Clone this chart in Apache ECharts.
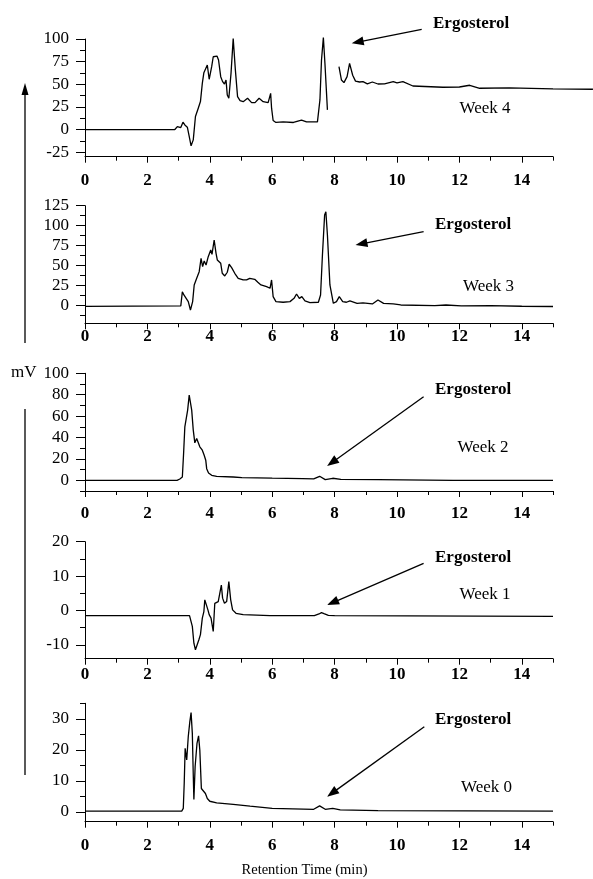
<!DOCTYPE html>
<html><head><meta charset="utf-8">
<script src="https://cdn.jsdelivr.net/npm/echarts@6/dist/echarts.min.js"></script>
<style>html,body{margin:0;padding:0;background:#fff}#c{width:593px;height:879px}</style>
</head><body><div id="c"></div>
<script>
// ---------- DATA ----------
const weekNames = ['Week 4','Week 3','Week 2','Week 1','Week 0'];
const peakLabel = 'Ergosterol';
const xTitle = 'Retention Time (min)';
const yUnit = 'mV';

const xMajor = [0,2,4,6,8,10,12,14];
const xMinor = [1,3,5,7,9,11,13,15];

const yMinW4 = -30, yMaxW4 = 100;
const yMajorW4 = [-25,0,25,50,75,100];
const yMinorW4 = [-12.5,12.5,37.5,62.5,87.5];
const yMinW3 = -22, yMaxW3 = 125;
const yMajorW3 = [0,25,50,75,100,125];
const yMinorW3 = [-12.5,12.5,37.5,62.5,87.5,112.5];
const yMinW2 = -10, yMaxW2 = 100;
const yMajorW2 = [0,20,40,60,80,100];
const yMinorW2 = [-10,10,30,50,70,90];
const yMinW1 = -14, yMaxW1 = 20;
const yMajorW1 = [-10,0,10,20];
const yMinorW1 = [-5,5,15];
const yMinW0 = -3.2, yMaxW0 = 35;
const yMajorW0 = [0,10,20,30];
const yMinorW0 = [5,15,25,35];

// Week 4 (null = gap in trace)
const timeW4 = [0,2.88,2.96,3.02,3.07,3.14,3.20,3.28,3.34,3.40,
  3.47,3.54,3.63,3.70,3.76,3.81,3.87,3.92,3.98,4.06,
  4.11,4.17,4.23,4.28,4.35,4.41,4.47,4.52,4.56,4.61,
  4.68,4.75,4.82,4.89,4.97,5.07,5.21,5.34,5.45,5.58,
  5.71,5.87,5.93,5.95,5.98,6.03,6.12,6.35,6.68,6.94,
  7.10,7.45,7.53,7.58,7.64,7.69,7.77,7.95,8.14,8.22,
  8.30,8.40,8.48,8.58,8.67,8.80,8.91,9.05,9.21,9.39,
  9.60,9.88,10.0,10.19,10.51,11.47,12.0,12.33,12.65,13.6,
  15,16.28];
const valueW4 = [0,0,3.3,4.4,2.2,8.1,5.1,2.6,-7.6,-18,
  -11.4,14.4,23.6,30.9,51,62.8,63.9,71.3,55.5,69.4,
  80.4,79.7,81.2,76.8,58.4,52.9,50.3,54.7,38.2,34.5,
  62,100.6,65.6,36.3,31.9,30.8,34.5,29.7,29.7,34.5,
  30.8,29.7,28.2,40,23.6,10,7.8,8.5,7.8,10.4,
  8.5,8.5,32.7,76.8,101.7,73.2,21.7,null,69.4,54.7,
  51.8,58.4,73.1,60,53.5,52.5,52.9,50.5,52.5,50.3,
  50.5,53,51.5,52.9,48.1,46.7,47,48.9,45.6,46,
  44.9,44.5];

// Week 3
const timeW3 = [0,3.07,3.12,3.17,3.23,3.31,3.38,3.45,3.50,3.58,
  3.66,3.72,3.77,3.82,3.88,3.95,4.03,4.07,4.14,4.20,
  4.24,4.29,4.35,4.40,4.48,4.56,4.62,4.70,4.80,4.91,
  5.07,5.18,5.28,5.44,5.54,5.64,5.82,5.93,5.98,6.03,
  6.12,6.35,6.57,6.70,6.78,6.87,6.95,7.05,7.21,7.48,
  7.55,7.61,7.68,7.72,7.77,7.85,7.96,8.06,8.15,8.26,
  8.38,8.49,8.72,8.91,9.21,9.39,9.57,9.88,10.12,11.21,
  11.57,12.06,13.0,14.0,15];
const valueW3 = [-0.8,-0.3,17.5,13.4,11.3,5.1,-5.4,5.1,25.9,34.2,
  42.5,59.2,48.8,55.9,50.9,61.3,69.6,64.2,82.1,65.5,
  57.2,58,53,40.5,37.2,41.8,51.8,47.6,40.5,34.2,
  32.2,32.2,34.2,33,29.2,25.9,23.8,21.8,32.2,11.3,
  5.1,4.3,5.1,9.2,14.6,9.2,11.3,5.9,3.8,4.3,
  13.4,63.4,113.4,117.5,88.4,25.9,3.0,5.1,11.3,5.1,
  4.3,5.9,2.9,3.6,2.2,7.2,2.9,2.2,0.9,0.1,
  0.9,-0.3,0.1,-0.7,-1];

// Week 2
const timeW2 = [0,2.95,3.04,3.12,3.16,3.20,3.24,3.29,3.34,3.37,
  3.42,3.47,3.52,3.58,3.63,3.68,3.76,3.82,3.87,3.90,
  3.96,4.06,4.22,4.75,5.03,6.0,6.97,7.33,7.52,7.70,
  7.94,8.2,9.4,11.8,15];
const valueW2 = [0,0,1.25,3.1,25,50,51.6,65.6,79.7,78.8,
  65.6,46.9,35,39.1,40,31.3,28.1,23.4,18.8,10.9,
  6.9,4.7,3.75,3.1,2.5,2.0,1.6,1.25,3.75,0.6,
  1.9,0.9,0.6,0,0];

// Week 1
const timeW1 = [0,3.35,3.39,3.44,3.49,3.54,3.60,3.65,3.70,3.76,
  3.81,3.84,3.90,3.94,3.98,4.04,4.11,4.16,4.22,4.27,
  4.32,4.37,4.41,4.47,4.54,4.61,4.67,4.73,4.84,5.07,
  5.93,7.35,7.50,7.58,7.66,7.80,8.0,15];
const valueW1 = [-1.5,-1.5,-2.0,-4.6,-9.5,-11.4,-11.9,-8.5,-7.0,-2.2,
  -0.3,3.1,3.3,0.2,-1.2,-2.2,-6.1,2.1,1.9,2.6,
  5.0,7.4,3.6,2.1,2.6,8.4,3.1,0.2,-0.8,-1.2,
  -1.5,-1.5,-1.0,-0.6,-0.9,-1.4,-1.5,-1.7];

// Week 0
const timeW0 = [0,3.10,3.15,3.18,3.21,3.26,3.31,3.36,3.40,3.44,
  3.47,3.49,3.53,3.59,3.64,3.68,3.73,3.79,3.86,3.92,
  4.00,4.22,4.75,5.29,6.0,7.33,7.52,7.70,7.94,8.18,
  9.39,15];
const valueW0 = [0.2,0.2,1.1,9.2,20.5,16.7,24.3,29.1,32.0,25.3,
  11.9,4.0,14.6,22.1,24.5,19.9,7.5,7.0,5.9,4.3,
  3.4,2.9,2.4,1.8,1.1,0.8,1.9,0.8,1.1,0.6,
  0.4,0.2];

// ---------- LAYOUT ----------
const FONT = '"Liberation Serif", "Times New Roman", serif';
const xAxisMax = 15;
const gridLeft = 85, gridWidth = 468;
const gridTops = [39, 205.7, 373.3, 541.7, 703.3];
const gridHeights = [117.7, 117.6, 117.7, 117, 118.4];
const xLabelMargins = [15, 5, 14.5, 7, 15.5];

const panels = [
  {t: timeW4, v: valueW4, min: yMinW4, max: yMaxW4, maj: yMajorW4, mnr: yMinorW4},
  {t: timeW3, v: valueW3, min: yMinW3, max: yMaxW3, maj: yMajorW3, mnr: yMinorW3},
  {t: timeW2, v: valueW2, min: yMinW2, max: yMaxW2, maj: yMajorW2, mnr: yMinorW2},
  {t: timeW1, v: valueW1, min: yMinW1, max: yMaxW1, maj: yMajorW1, mnr: yMinorW1},
  {t: timeW0, v: valueW0, min: yMinW0, max: yMaxW0, maj: yMajorW0, mnr: yMinorW0}
];

const grid = [], xAxis = [], yAxis = [], series = [];
const black = '#000';
panels.forEach((p, i) => {
  grid.push({left: gridLeft, width: gridWidth, top: gridTops[i], height: gridHeights[i]});
  xAxis.push({
    type: 'value', gridIndex: i, min: 0, max: xAxisMax, position: 'bottom',
    axisLine: {show: true, onZero: false, lineStyle: {color: black, width: 1}},
    axisTick: {show: true, customValues: xMajor, length: 6, inside: false, lineStyle: {color: black, width: 1}},
    axisLabel: {show: true, customValues: xMajor, color: black, fontFamily: FONT, fontWeight: 'bold', fontSize: 17, margin: xLabelMargins[i]},
    splitLine: {show: false}
  });
  xAxis.push({
    type: 'value', gridIndex: i, min: 0, max: xAxisMax, position: 'bottom',
    axisLine: {show: false, onZero: false},
    axisTick: {show: true, customValues: xMinor, length: 4, inside: false, lineStyle: {color: black, width: 1}},
    axisLabel: {show: false},
    splitLine: {show: false}
  });
  yAxis.push({
    type: 'value', gridIndex: i, min: p.min, max: p.max, position: 'left',
    axisLine: {show: true, onZero: false, lineStyle: {color: black, width: 1}},
    axisTick: {show: true, customValues: p.maj, length: 9, inside: false, lineStyle: {color: black, width: 1}},
    axisLabel: {show: true, customValues: p.maj, color: black, fontFamily: FONT, fontSize: 17, margin: 16},
    splitLine: {show: false}
  });
  yAxis.push({
    type: 'value', gridIndex: i, min: p.min, max: p.max, position: 'left',
    axisLine: {show: false, onZero: false},
    axisTick: {show: true, customValues: p.mnr, length: 5, inside: false, lineStyle: {color: black, width: 1}},
    axisLabel: {show: false},
    splitLine: {show: false}
  });
});

// Each trace gets its own plotting grid whose x-range covers all of its data
// (Week 4 runs past the 15-min end of the drawn axis, out to the page edge).
panels.forEach((p, i) => {
  const tMax = Math.max(xAxisMax, ...p.t);
  const gi = grid.length;
  grid.push({left: gridLeft, width: gridWidth * tMax / xAxisMax, top: gridTops[i], height: gridHeights[i]});
  const xi = xAxis.length, yi = yAxis.length;
  xAxis.push({type: 'value', gridIndex: gi, min: 0, max: tMax, show: false});
  yAxis.push({type: 'value', gridIndex: gi, min: p.min, max: p.max, show: false});
  series.push({
    type: 'line', xAxisIndex: xi, yAxisIndex: yi,
    data: p.t.map((t, k) => [t, p.v[k] === null ? '-' : p.v[k]]),
    showSymbol: false, symbol: 'none', connectNulls: false, clip: false,
    lineStyle: {color: black, width: 1.3}, animation: false, silent: true
  });
});

// annotation layout (pixels)
const ergoLabelPos = [[433, 24], [435, 225], [435, 390], [435, 557.7], [435, 720]];
const weekLabelPos = [[459.5, 109], [463, 286.7], [457.6, 448], [459.5, 595], [461, 788]];
const arrowLines = [
  [421.7, 29.3, 351.7, 43.3],
  [423.6, 231.7, 355.5, 245],
  [423.6, 396.7, 327.1, 466],
  [423.6, 563.3, 327.1, 605],
  [424.3, 726.7, 327.1, 796.7]
];

const graphic = [];
function addArrow(x1, y1, x2, y2, headLen, headHalf) {
  const dx = x2 - x1, dy = y2 - y1, L = Math.hypot(dx, dy);
  const ux = dx / L, uy = dy / L, nx = -uy, ny = ux;
  const bx = x2 - ux * headLen, by = y2 - uy * headLen;
  graphic.push({type: 'line', shape: {x1: x1, y1: y1, x2: bx + ux * 2, y2: by + uy * 2}, style: {stroke: black, lineWidth: 1.3}, silent: true});
  graphic.push({type: 'polygon', shape: {points: [[x2, y2], [bx + nx * headHalf, by + ny * headHalf], [bx - nx * headHalf, by - ny * headHalf]]}, style: {fill: black}, silent: true});
}
weekNames.forEach((w, i) => {
  graphic.push({type: 'text', x: ergoLabelPos[i][0], y: ergoLabelPos[i][1], silent: true,
    style: {text: peakLabel, fontFamily: FONT, fontWeight: 'bold', fontSize: 17, fill: black, align: 'left', verticalAlign: 'middle'}});
  graphic.push({type: 'text', x: weekLabelPos[i][0], y: weekLabelPos[i][1], silent: true,
    style: {text: w, fontFamily: FONT, fontSize: 17, fill: black, align: 'left', verticalAlign: 'middle'}});
  const a = arrowLines[i];
  addArrow(a[0], a[1], a[2], a[3], 12, 4.5);
});
// vertical mV arrow at left
addArrow(25, 343, 25, 83, 12, 3.5);
graphic.push({type: 'line', shape: {x1: 25, y1: 409, x2: 25, y2: 775}, style: {stroke: black, lineWidth: 1.3}, silent: true});
graphic.push({type: 'text', x: 11, y: 373, silent: true,
  style: {text: yUnit, fontFamily: FONT, fontSize: 17, fill: black, align: 'left', verticalAlign: 'middle'}});
graphic.push({type: 'text', x: 304.5, y: 870, silent: true,
  style: {text: xTitle, fontFamily: FONT, fontSize: 14.5, fill: black, align: 'center', verticalAlign: 'middle'}});

const chart = echarts.init(document.getElementById('c'), null, {renderer: 'canvas'});
chart.setOption({
  backgroundColor: '#fff',
  animation: false,
  grid: grid, xAxis: xAxis, yAxis: yAxis, series: series,
  graphic: graphic
});
</script></body></html>
